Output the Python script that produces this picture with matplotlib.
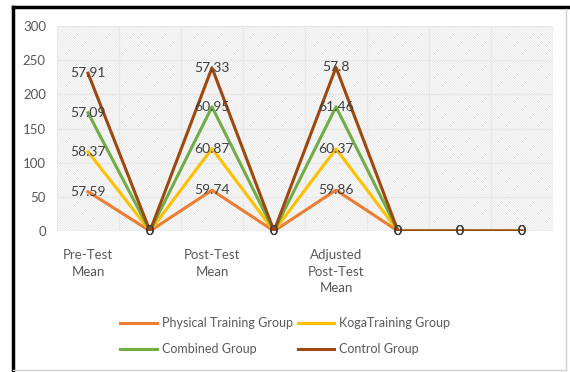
import matplotlib.pyplot as plt
import numpy as np
from matplotlib.lines import Line2D
from matplotlib.patches import Rectangle

# data (stacked line chart, labels show each series' own value)
categories = ["Pre-Test\nMean", "", "Post-Test\nMean", "", "Adjusted\nPost-Test\nMean", "", "", ""]
physical = [57.59, 0, 59.74, 0, 59.86, 0, 0, 0]
koga = [58.37, 0, 60.87, 0, 60.37, 0, 0, 0]
combined = [57.09, 0, 60.95, 0, 61.46, 0, 0, 0]
control = [57.91, 0, 57.33, 0, 57.8, 0, 0, 0]

names = ["Physical Training Group", "KogaTraining Group", "Combined Group", "Control Group"]
colors = ["#ED7D31", "#FFC000", "#70AD47", "#9E480E"]

plt.rcParams['font.family'] = ['Lato', 'DejaVu Sans']
plt.rcParams['hatch.linewidth'] = 0.5
plt.rcParams['hatch.color'] = '#e2e2e2'

fig = plt.figure(figsize=(5.7, 3.72), dpi=100)
ax = fig.add_axes([57/570, 1-231/372, (553-57)/570, (231-26)/372])

x = np.arange(len(categories))
ax.set_xlim(-0.5, len(categories)-0.5)
ax.set_ylim(0, 300)

# hatched plot area
ax.add_patch(Rectangle((0, 0), 1, 1, transform=ax.transAxes, facecolor='white',
                       edgecolor='#e2e2e2', hatch='\\' * 14, linewidth=0, zorder=0))

# gridlines
for yv in range(50, 301, 50):
    ax.axhline(yv, color='#e8e8e8', lw=1, zorder=1)
for xv in np.arange(-0.5, len(categories), 1):
    ax.axvline(xv, color='#e8e8e8', lw=1, zorder=1)
ax.axhline(0, color='#d9d9d9', lw=1, zorder=1)

series = [physical, koga, combined, control]
handles = []
bottom = np.zeros(len(categories))
for vals, nm, c in zip(series, names, colors):
    top = bottom + np.array(vals)
    h, = ax.plot(x, top, color=c, lw=2.2, label=nm, zorder=3)
    handles.append(h)
    for xi, yi, v in zip(x, top, vals):
        ax.text(xi, yi, f"{v:g}", ha='center', va='center', fontsize=10,
                color='#404040', zorder=4)
    bottom = top

for s in ax.spines.values():
    s.set_visible(False)
ax.set_xticks(x)
ax.set_xticklabels(categories, fontsize=9.5, color='#595959', linespacing=1.45)
ax.set_yticks(range(0, 301, 50))
ax.tick_params(axis='y', labelsize=9.5, labelcolor='#595959', length=0, pad=8)
ax.tick_params(axis='x', length=0, pad=13)

# legend fills column-wise, so order to get rows: physical/koga, combined/control
order = [0, 2, 1, 3]
fig.legend(handles=[handles[i] for i in order], labels=[names[i] for i in order],
           loc='center', bbox_to_anchor=(285/570, 1-336/372), ncol=2, frameon=False,
           fontsize=9, labelcolor='#595959', handlelength=2.9,
           columnspacing=0.4, handletextpad=0.4, labelspacing=1.1)

# outer border: black left/top, grey right/bottom
fig.add_artist(Line2D([13/570, 13/570], [0, 1-7/372], color='black', lw=2.5, transform=fig.transFigure))
fig.add_artist(Line2D([13/570, 568/570], [1-7/372, 1-7/372], color='black', lw=2.5, transform=fig.transFigure))
fig.add_artist(Line2D([566/570, 566/570], [2/372, 1-9/372], color='#d0d0d0', lw=1, transform=fig.transFigure))
fig.add_artist(Line2D([13/570, 566/570], [2/372, 2/372], color='#d0d0d0', lw=1, transform=fig.transFigure))

fig.savefig("out.png", dpi=100)
